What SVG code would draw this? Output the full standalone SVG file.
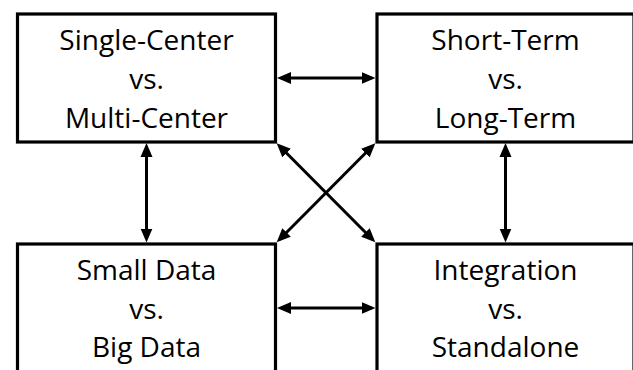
<svg xmlns="http://www.w3.org/2000/svg" width="633" height="370" viewBox="0 0 633 370">
<style>
.box{fill:#fff;stroke:#000;stroke-width:3.2}
.t{font-family:"Open Sans","Noto Sans",sans-serif;font-size:28px;fill:#000;text-anchor:middle}
.c{stroke:#000;stroke-width:3;fill:none;marker-start:url(#ah);marker-end:url(#ah)}
</style>
<defs>
<marker id="ah" markerUnits="userSpaceOnUse" markerWidth="15" markerHeight="13" viewBox="0 0 15 13" refX="10" refY="6.5" orient="auto-start-reverse">
<path d="M0,0.5 L14,6.5 L0,12.5 z" fill="#000"/>
</marker>
</defs>
<rect width="633" height="370" fill="#fff"/>
<g id="single-multi">
<rect class="box" x="17.5" y="14" width="258" height="128"/>
<text class="t" x="146.5" y="49.5">Single-Center</text>
<text class="t" x="146.5" y="88.5">vs.</text>
<text class="t" x="146.5" y="127.5">Multi-Center</text>
</g>
<g id="short-long">
<rect class="box" x="377" y="14" width="257" height="128"/>
<text class="t" x="505.5" y="49.5">Short-Term</text>
<text class="t" x="505.5" y="88.5">vs.</text>
<text class="t" x="505.5" y="127.5">Long-Term</text>
</g>
<g id="small-big">
<rect class="box" x="17.5" y="244" width="258" height="140"/>
<text class="t" x="146.5" y="280">Small Data</text>
<text class="t" x="146.5" y="318.5">vs.</text>
<text class="t" x="146.5" y="357">Big Data</text>
</g>
<g id="integration-standalone">
<rect class="box" x="377" y="244" width="257" height="140"/>
<text class="t" x="505.5" y="280">Integration</text>
<text class="t" x="505.5" y="318.5">vs.</text>
<text class="t" x="505.5" y="357">Standalone</text>
</g>
<g id="connectors">
<line class="c" x1="281" y1="78" x2="371.5" y2="78"/>
<line class="c" x1="281" y1="308" x2="371.5" y2="308"/>
<line class="c" x1="146.5" y1="147" x2="146.5" y2="238.5"/>
<line class="c" x1="505.5" y1="147" x2="505.5" y2="238.5"/>
<line class="c" x1="279.5" y1="146" x2="372.5" y2="239.5"/>
<line class="c" x1="372.5" y1="146" x2="279.5" y2="239.5"/>
</g>
</svg>
